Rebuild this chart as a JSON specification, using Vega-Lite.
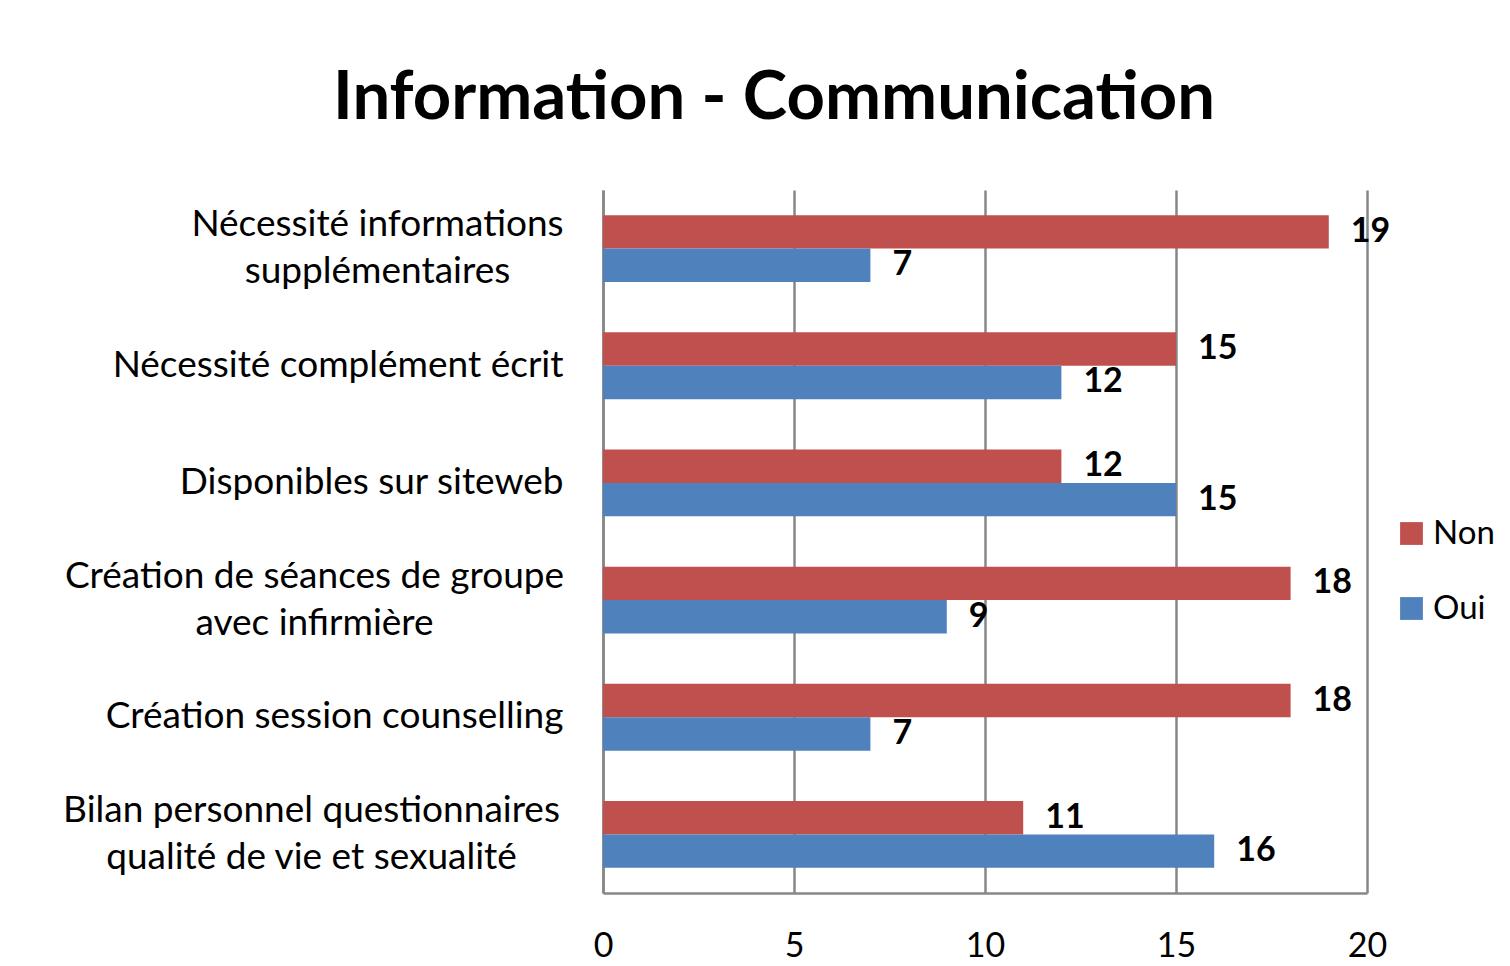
{
  "$schema": "https://vega.github.io/schema/vega-lite/v6.json",
  "autosize": "none",
  "width": 764,
  "height": 703,
  "padding": {"left": 603, "top": 190, "right": 143, "bottom": 73},
  "background": "white",
  "title": {
    "text": "Information - Communication",
    "font": "Lato",
    "fontSize": 67,
    "fontWeight": "bold",
    "color": "#000000",
    "anchor": "middle",
    "dx": -211,
    "baseline": "alphabetic",
    "offset": 4
  },
  "data": {
    "values": [
      {"cat": "Nécessité informations|supplémentaires", "serie": "Non", "n": 19},
      {"cat": "Nécessité informations|supplémentaires", "serie": "Oui", "n": 7},
      {"cat": "Nécessité complément écrit", "serie": "Non", "n": 15},
      {"cat": "Nécessité complément écrit", "serie": "Oui", "n": 12},
      {"cat": "Disponibles sur siteweb", "serie": "Non", "n": 12},
      {"cat": "Disponibles sur siteweb", "serie": "Oui", "n": 15},
      {"cat": "Création de séances de groupe|avec infirmière", "serie": "Non", "n": 18},
      {"cat": "Création de séances de groupe|avec infirmière", "serie": "Oui", "n": 9},
      {"cat": "Création session counselling", "serie": "Non", "n": 18},
      {"cat": "Création session counselling", "serie": "Oui", "n": 7},
      {"cat": "Bilan personnel  questionnaires|qualité de vie et sexualité", "serie": "Non", "n": 11},
      {"cat": "Bilan personnel  questionnaires|qualité de vie et sexualité", "serie": "Oui", "n": 16}
    ]
  },
  "encoding": {
    "y": {
      "field": "cat",
      "type": "nominal",
      "sort": null,
      "scale": {"paddingInner": 0.43, "paddingOuter": 0.215},
      "axis": {
        "title": null,
        "labelExpr": "split(datum.value, '|')",
        "labelFont": "Lato",
        "labelFontSize": 37,
        "labelColor": "#000000",
        "labelLineHeight": 47,
        "labelPadding": {
          "condition": [
            {"test": "indexof(datum.value, 'Nécessité informations') >= 0", "value": 226},
            {"test": "indexof(datum.value, 'séances') >= 0", "value": 289},
            {"test": "indexof(datum.value, 'Bilan') >= 0", "value": 292}
          ],
          "value": 40
        },
        "labelAlign": {
          "condition": {"test": "indexof(datum.value, '|') >= 0", "value": "center"},
          "value": "right"
        },
        "labelOffset": {
          "condition": {"test": "indexof(datum.value, '|') >= 0", "value": -23.5},
          "value": 0
        },
        "labelLimit": 700,
        "ticks": false,
        "domainColor": "#878787",
        "domainWidth": 2.5,
        "grid": false
      }
    },
    "yOffset": {
      "field": "serie",
      "type": "nominal",
      "sort": ["Non", "Oui"],
      "scale": {"paddingInner": 0, "paddingOuter": 0}
    },
    "x": {
      "field": "n",
      "type": "quantitative",
      "scale": {"domain": [0, 20], "nice": false},
      "axis": {
        "title": null,
        "values": [0, 5, 10, 15, 20],
        "labelFont": "Lato",
        "labelFontSize": 34,
        "labelColor": "#000000",
        "labelPadding": 36,
        "labelFlush": false,
        "ticks": false,
        "domainColor": "#878787",
        "domainWidth": 2.5,
        "grid": true,
        "gridColor": "#878787",
        "gridWidth": 2.5,
        "gridOpacity": 1
      }
    }
  },
  "layer": [
    {
      "mark": {"type": "bar"},
      "encoding": {
        "color": {
          "field": "serie",
          "type": "nominal",
          "scale": {"domain": ["Non", "Oui"], "range": ["#C0504D", "#4F81BD"]},
          "legend": {
            "title": null,
            "orient": "none",
            "legendX": 792,
            "legendY": 327,
            "symbolType": "square",
            "symbolSize": 520,
            "symbolStrokeWidth": 0,
            "labelFont": "Lato",
            "labelFontSize": 33,
            "labelColor": "#000000",
            "labelOffset": 5,
            "rowPadding": 41
          }
        }
      }
    },
    {
      "mark": {
        "type": "text",
        "align": "left",
        "baseline": "middle",
        "dx": 22,
        "font": "Lato",
        "fontSize": 34,
        "fontWeight": "bold",
        "color": "#000000"
      },
      "encoding": {
        "text": {"field": "n", "type": "quantitative"}
      }
    }
  ],
  "config": {
    "view": {"stroke": null}
  }
}
